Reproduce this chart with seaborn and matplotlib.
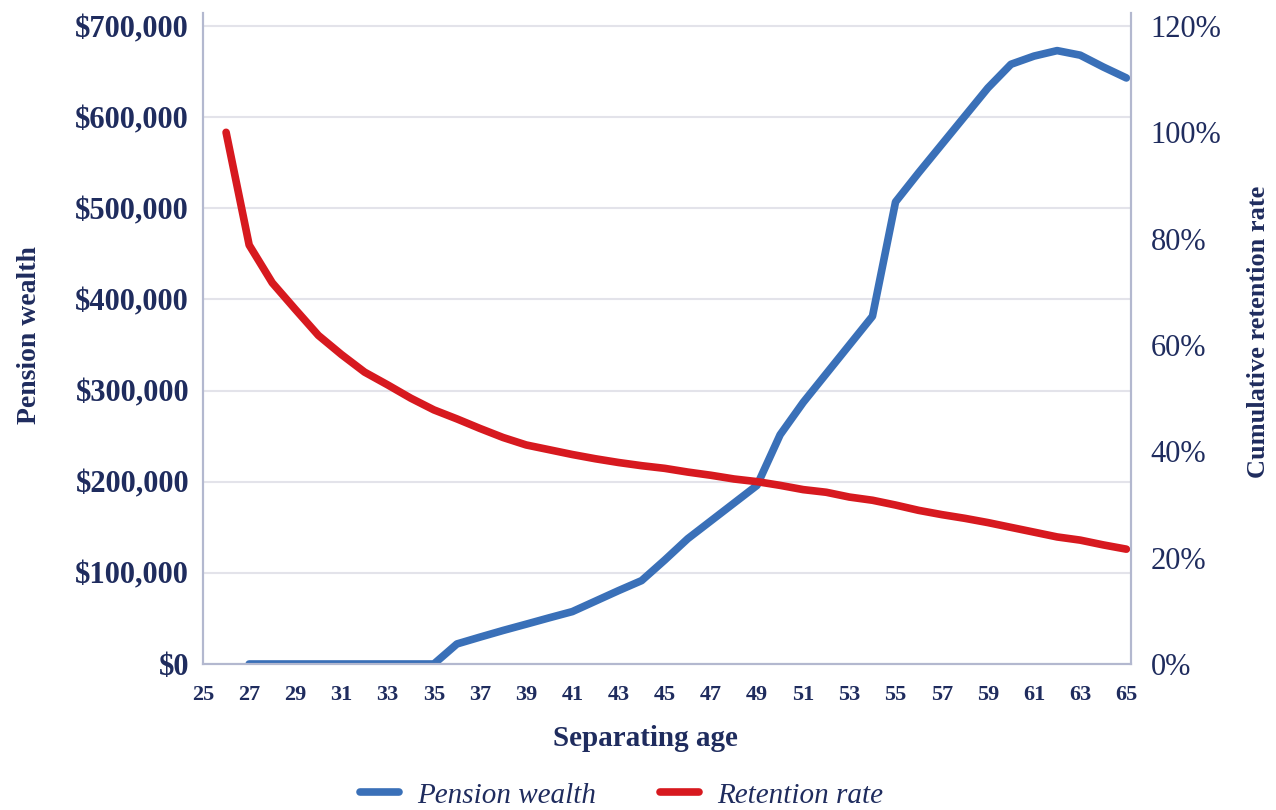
import numpy as np
import pandas as pd
import matplotlib
matplotlib.use("Agg")
import matplotlib.pyplot as plt
import seaborn as sns
from matplotlib.ticker import FuncFormatter

# Data
edades_pension = list(range(27, 66))
pension_wealth = [0, 0, 0, 0, 0, 0, 0, 0, 0,
                  22000, 29500, 36800, 43700, 50700, 57500,
                  69000, 80500, 91500, 114000, 137500, 157000, 176500, 196000,
                  251500, 287000, 318500, 350000, 381500,
                  507000, 539000, 570000, 601000, 632000, 658000,
                  667000, 673000, 668000, 655000, 643000]

edades_retencion = list(range(26, 66))
retention_rate = [1.000, 0.788, 0.717, 0.667, 0.618, 0.582, 0.549, 0.525, 0.500,
                  0.478, 0.461, 0.443, 0.426, 0.412, 0.403, 0.394, 0.386, 0.379,
                  0.373, 0.368, 0.361, 0.355, 0.348, 0.343, 0.336, 0.328, 0.323,
                  0.314, 0.308, 0.299, 0.289, 0.281, 0.274, 0.266, 0.257, 0.248,
                  0.239, 0.233, 0.224, 0.216]

x_ticks = list(range(25, 66, 2))
y_ticks = list(range(0, 700001, 100000))
y2_ticks = [0, 0.2, 0.4, 0.6, 0.8, 1.0, 1.2]

AZUL = "#3a70b8"
ROJO = "#d7191f"
TEXTO = "#1f2c5e"
EJE = "#b3b8cf"
REJILLA = "#e3e3ea"

sns.set_theme(style="white")
plt.rcParams["font.family"] = ["Liberation Serif", "DejaVu Serif"]

df_p = pd.DataFrame({"edad": edades_pension, "valor": pension_wealth})
df_r = pd.DataFrame({"edad": edades_retencion, "valor": retention_rate})

fig = plt.figure(figsize=(12.76, 8.10), dpi=100)
ax = fig.add_axes([203 / 1276, 1 - 664 / 810, 928 / 1276, 651 / 810])
ax2 = ax.twinx()

sns.lineplot(data=df_p, x="edad", y="valor", ax=ax, color=AZUL, linewidth=5.5,
             label="Pension wealth", legend=False, solid_capstyle="round")
sns.lineplot(data=df_r, x="edad", y="valor", ax=ax2, color=ROJO, linewidth=5.5,
             label="Retention rate", legend=False, solid_capstyle="round")

top = 700000 * 651 / 638
ax.set_ylim(0, top)
ax2.set_ylim(0, 1.2 * top / 700000)
ax.set_xlim(25, 65.2)

ax.set_yticks(y_ticks)
ax2.set_yticks(y2_ticks)
ax.set_xticks(x_ticks)
ax.yaxis.set_major_formatter(FuncFormatter(lambda v, p: f"${v:,.0f}"))
ax2.yaxis.set_major_formatter(FuncFormatter(lambda v, p: f"{v * 100:.0f}%"))

ax.grid(axis="y", color=REJILLA, linewidth=1.5)
ax.grid(axis="x", visible=False)
ax2.grid(False)
ax.set_axisbelow(True)

for a in (ax, ax2):
    for lado in ("left", "right", "bottom"):
        a.spines[lado].set_color(EJE)
        a.spines[lado].set_linewidth(1.5)
    a.spines["top"].set_visible(False)
    a.tick_params(length=0)

ax.tick_params(axis="y", labelsize=22, labelcolor=TEXTO, pad=10)
for t in ax.get_yticklabels():
    t.set_fontweight("bold")
ax.tick_params(axis="x", labelsize=16, labelcolor=TEXTO, pad=15)
for t in ax.get_xticklabels():
    t.set_fontweight("bold")
ax2.tick_params(axis="y", labelsize=22, labelcolor=TEXTO, pad=14)

ax.set_xlabel("Separating age", fontsize=21, fontweight="bold", color=TEXTO)
ax.xaxis.set_label_coords(0.477, -0.093)
ax.set_ylabel("Pension wealth", fontsize=20, fontweight="bold", color=TEXTO)
ax.yaxis.set_label_coords(-0.174, 0.505)
ax2.set_ylabel("Cumulative retention rate", fontsize=19, fontweight="bold",
               color=TEXTO, rotation=90)
ax2.yaxis.set_label_coords(1.125, 0.51)

handles = ax.get_lines()[:1] + ax2.get_lines()[:1]
leg = fig.legend(handles, ["Pension wealth", "Retention rate"], loc="center",
                 bbox_to_anchor=(0.487, 0.018), ncol=2, frameon=False,
                 prop={"size": 21, "style": "italic"}, handlelength=1.35,
                 columnspacing=2.2, handletextpad=0.6)
for t in leg.get_texts():
    t.set_color(TEXTO)

fig.savefig("out.png", dpi=100)
